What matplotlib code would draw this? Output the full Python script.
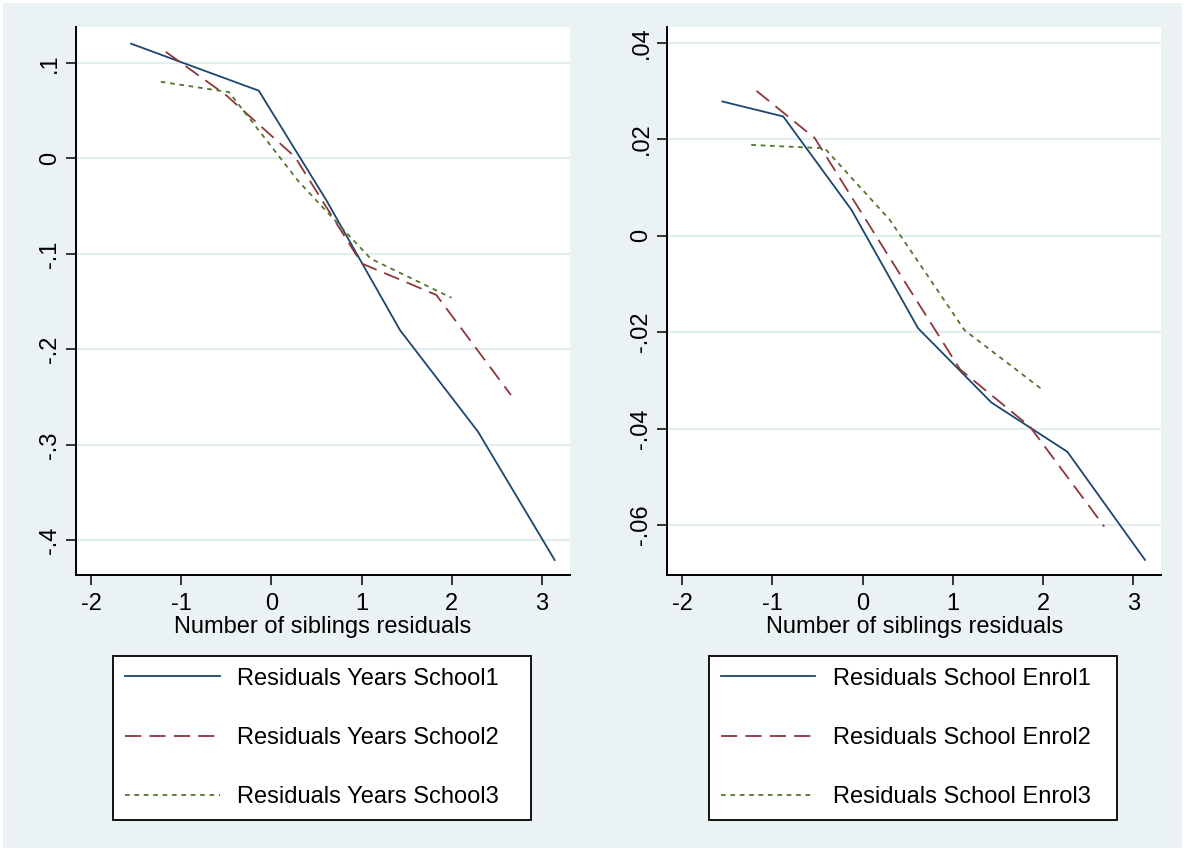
import matplotlib
matplotlib.use("Agg")
from matplotlib import pyplot as plt
from matplotlib.patches import Rectangle

plt.rcParams['font.family'] = ['Liberation Sans', 'DejaVu Sans']

# data (x = number of siblings residuals)
x_years1 = [-1.555, -0.88, -0.14, 0.61, 1.425, 2.29, 3.14]
years1 = [0.1201, 0.0966, 0.0709, -0.044, -0.1798, -0.2862, -0.4206]
x_years2 = [-1.171, -0.50, 0.26, 1.00, 1.828, 2.655]
years2 = [0.1116, 0.066, 0.0017, -0.110, -0.143, -0.2478]
x_years3 = [-1.226, -0.47, 0.30, 1.10, 1.997]
years3 = [0.0802, 0.0694, -0.024, -0.105, -0.146]

x_enrol1 = [-1.554, -0.88, -0.122, 0.615, 1.428, 2.27, 3.13]
enrol1 = [0.0278, 0.0247, 0.0053, -0.0192, -0.0346, -0.0448, -0.0672]
x_enrol2 = [-1.176, -0.53, 0.26, 1.079, 1.855, 2.679]
enrol2 = [0.0300, 0.0202, -0.0034, -0.0277, -0.0396, -0.0603]
x_enrol3 = [-1.234, -0.42, 0.30, 1.13, 1.984]
enrol3 = [0.0188, 0.0181, 0.0033, -0.0196, -0.0318]

x_ticks = [-2, -1, 0, 1, 2, 3]
left_yticks = [0.1, 0, -0.1, -0.2, -0.3, -0.4]
left_ylabels = ['.1', '0', '-.1', '-.2', '-.3', '-.4']
right_yticks = [0.04, 0.02, 0, -0.02, -0.04, -0.06]
right_ylabels = ['.04', '.02', '0', '-.02', '-.04', '-.06']

left_names = ['Residuals Years School1', 'Residuals Years School2', 'Residuals Years School3']
right_names = ['Residuals School Enrol1', 'Residuals School Enrol2', 'Residuals School Enrol3']

navy = '#1A476F'
maroon = '#90353B'
green = '#55752F'
bg = '#EAF2F3'
fs = 17

W, H = 1185, 850
fig = plt.figure(figsize=(W / 100, H / 100), dpi=100, facecolor='white')
fig.patches.append(Rectangle((3 / W, 2 / H), 1 - 6 / W, 1 - 5 / H, transform=fig.transFigure,
                             facecolor=bg, edgecolor='none', zorder=-10))


def panel(left, xs, ys, names, yticks, ylabels, ylim, leg_left, leg_width):
    ax = fig.add_axes([left / W, 1 - 575.3 / H, 494.4 / W, 548.6 / H])
    styles = ['-', (0, (9, 4.5)), (0, (2.6, 2.6))]
    colors = [navy, maroon, green]
    handles = []
    for x, y, st, c, n in zip(xs, ys, styles, colors, names):
        h, = ax.plot(x, y, color=c, linestyle=st, linewidth=1.3, label=n)
        handles.append(h)
    ax.set_xlim(-2.168, 3.312)
    ax.set_ylim(*ylim)
    ax.set_xticks(x_ticks)
    ax.set_xticklabels([str(t) for t in x_ticks])
    ax.set_yticks(yticks)
    ax.set_yticklabels(ylabels, rotation=90, va='center')
    ax.tick_params(axis='both', labelsize=fs, length=7.5, width=1.1, color='black')
    ax.tick_params(axis='x', pad=5.5)
    ax.tick_params(axis='y', pad=3)
    ax.grid(axis='y', color='#E3ECEE', linewidth=1.5)
    ax.set_axisbelow(True)
    for s in ['top', 'right']:
        ax.spines[s].set_visible(False)
    for s in ['left', 'bottom']:
        ax.spines[s].set_linewidth(1.4)
        ax.spines[s].set_color('black')
    ax.set_xlabel('Number of siblings residuals', fontsize=fs, labelpad=0.5)
    leg = ax.legend(handles=handles, loc='upper left',
                    bbox_to_anchor=(leg_left / W, 1 - 655.7 / H, leg_width / W, 0),
                    bbox_transform=fig.transFigure, mode='expand', borderaxespad=0,
                    fontsize=fs, handlelength=4.0, handletextpad=0.75, borderpad=0.5,
                    labelspacing=1.58, fancybox=False, framealpha=1, edgecolor='black')
    leg.get_frame().set_linewidth(1.3)
    return ax


panel(75.8, [x_years1, x_years2, x_years3], [years1, years2, years3], left_names,
      left_yticks, left_ylabels, (-0.4366, 0.1379), 113.4, 418)
panel(667.0, [x_enrol1, x_enrol2, x_enrol3], [enrol1, enrol2, enrol3], right_names,
      right_yticks, right_ylabels, (-0.0704, 0.0433), 709, 408)

plt.savefig('out.png', dpi=100, facecolor=fig.get_facecolor())
plt.close()
